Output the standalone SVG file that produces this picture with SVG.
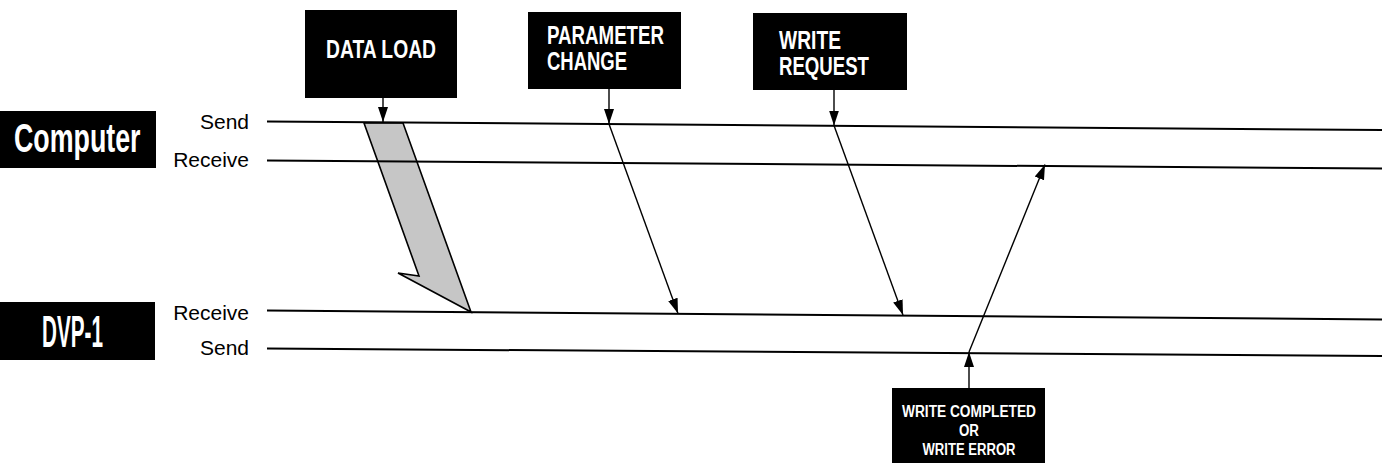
<svg xmlns="http://www.w3.org/2000/svg" width="1391" height="465" viewBox="0 0 1391 465">
  <style>
    .box { fill: #000; }
    .bt { font-family: "Liberation Sans", Arial, sans-serif; font-weight: bold; fill: #fff; }
    .lbl { font-family: "Liberation Sans", Arial, sans-serif; font-size: 21px; fill: #000; text-anchor: end; }
    .lane { stroke: #000; stroke-width: 2; fill: none; }
    .arr { stroke: #000; stroke-width: 1.4; fill: none; marker-end: url(#ah); }
  </style>
  <defs>
    <marker id="ah" markerUnits="userSpaceOnUse" markerWidth="16" markerHeight="12" viewBox="0 0 16 12" refX="15" refY="6" orient="auto">
      <path d="M0,1 L15,6 L0,11 Z" fill="#000"/>
    </marker>
  </defs>
  <rect width="1391" height="465" fill="#fff"/>

  <g id="data-load-band">
    <polygon points="364,123 403,123 471,312 398,273 419,276" fill="#c6c6c6" stroke="#000" stroke-width="1.6" stroke-linejoin="miter"/>
  </g>

  <g id="lanes">
    <line class="lane" x1="267" y1="121.5" x2="1382" y2="130"/>
    <line class="lane" x1="267" y1="160.5" x2="1382" y2="168.5"/>
    <line class="lane" x1="267" y1="310.5" x2="1382" y2="319.5"/>
    <line class="lane" x1="267" y1="348.5" x2="1382" y2="356"/>
  </g>

  <g id="computer">
    <rect class="box" x="0" y="111" width="156" height="57"/>
    <text class="bt" transform="translate(14,152) scale(0.67,1)" font-size="40">Computer</text>
  </g>
  <g id="computer-labels">
    <text class="lbl" x="249" y="129">Send</text>
    <text class="lbl" x="249" y="167">Receive</text>
  </g>

  <g id="dvp1">
    <rect class="box" x="0" y="302" width="155" height="58"/>
    <text class="bt" transform="translate(42,347) scale(0.47,1)" font-size="44">DVP-1</text>
  </g>
  <g id="dvp1-labels">
    <text class="lbl" x="249" y="320">Receive</text>
    <text class="lbl" x="249" y="355">Send</text>
  </g>

  <g id="data-load">
    <rect class="box" x="305" y="10" width="152" height="88"/>
    <text class="bt" x="381" y="58" font-size="25" text-anchor="middle" textLength="110" lengthAdjust="spacingAndGlyphs">DATA LOAD</text>
  </g>

  <g id="parameter-change">
    <rect class="box" x="528" y="12" width="153" height="77"/>
    <text class="bt" x="547" y="44" font-size="25" textLength="117" lengthAdjust="spacingAndGlyphs">PARAMETER</text>
    <text class="bt" x="547" y="70" font-size="25" textLength="80" lengthAdjust="spacingAndGlyphs">CHANGE</text>
  </g>

  <g id="write-request">
    <rect class="box" x="753" y="13" width="154" height="77"/>
    <text class="bt" x="779" y="49" font-size="25" textLength="62" lengthAdjust="spacingAndGlyphs">WRITE</text>
    <text class="bt" x="779" y="75" font-size="25" textLength="90" lengthAdjust="spacingAndGlyphs">REQUEST</text>
  </g>

  <g id="write-completed">
    <rect class="box" x="892" y="388" width="153" height="75"/>
    <text class="bt" x="969" y="417" font-size="16" text-anchor="middle" textLength="134" lengthAdjust="spacingAndGlyphs">WRITE COMPLETED</text>
    <text class="bt" x="969" y="436" font-size="16" text-anchor="middle" textLength="20" lengthAdjust="spacingAndGlyphs">OR</text>
    <text class="bt" x="969" y="455" font-size="16" text-anchor="middle" textLength="93" lengthAdjust="spacingAndGlyphs">WRITE ERROR</text>
  </g>

  <g id="connectors">
    <line class="arr" x1="383" y1="98" x2="383" y2="122"/>
    <line class="arr" x1="609" y1="89" x2="609" y2="124"/>
    <line class="arr" x1="834" y1="90" x2="834" y2="125.5"/>
    <line class="arr" x1="609" y1="124" x2="678" y2="313.5"/>
    <line class="arr" x1="834" y1="125.5" x2="903" y2="315"/>
    <line class="arr" x1="969" y1="388" x2="969" y2="352"/>
    <line class="arr" x1="969" y1="352" x2="1045" y2="164.5"/>
  </g>
</svg>
